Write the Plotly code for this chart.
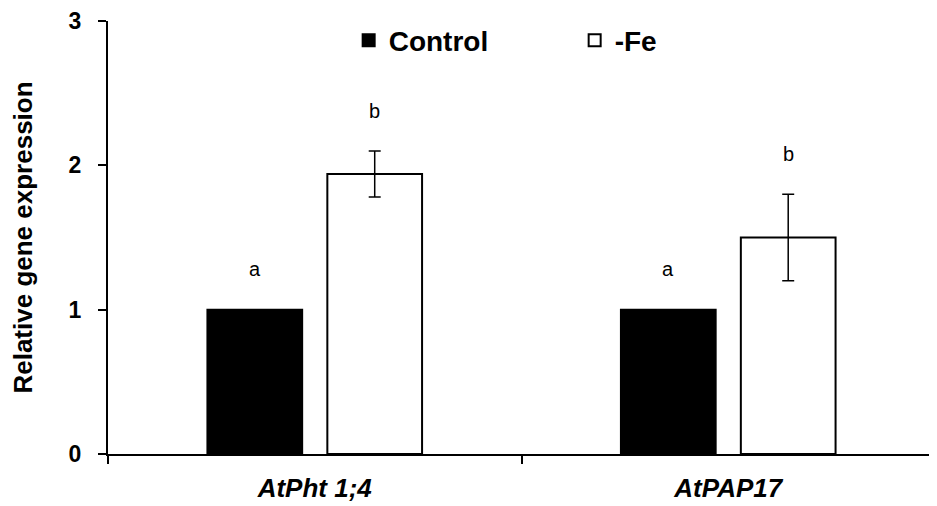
import plotly.graph_objects as go

genes = ["<i>AtPht 1;4</i>", "<i>AtPAP17</i>"]
control = [1.0, 1.0]
fe = [1.94, 1.50]
fe_err = [0.16, 0.30]
control_letters = ["a", "a"]
fe_letters = ["b", "b"]

FONT = "Liberation Sans, Arial, sans-serif"


def build_figure():
    fig = go.Figure()
    fig.add_trace(go.Bar(
        x=genes, y=control, name="Control",
        marker=dict(color="black", line=dict(color="black", width=2)),
    ))
    fig.add_trace(go.Bar(
        x=genes, y=fe, name="-Fe",
        marker=dict(color="white", line=dict(color="black", width=2)),
        error_y=dict(type="data", array=fe_err, color="black", thickness=1.5, width=6),
    ))

    # significance letters above each bar
    pad = 0.28
    for g, c, lab in zip(genes, control, control_letters):
        fig.add_annotation(x=g, y=c + pad, text=lab, showarrow=False, xshift=-60,
                           yanchor="middle", font=dict(size=20, color="black"))
    for g, v, e, lab in zip(genes, fe, fe_err, fe_letters):
        fig.add_annotation(x=g, y=v + e + pad, text=lab, showarrow=False, xshift=60,
                           yanchor="middle", font=dict(size=20, color="black"))

    # page body has an 8px margin, so the figure is sized to fit inside it
    fig.update_layout(
        width=929, height=498,
        margin=dict(l=100, r=2, t=13, b=52),
        paper_bgcolor="white", plot_bgcolor="white",
        font=dict(family=FONT, color="black"),
        barmode="group", bargap=0.42, bargroupgap=0.21,
        showlegend=True,
        legend=dict(
            orientation="h", x=0.291, y=0.955, xanchor="left", yanchor="middle",
            font=dict(size=28, family=FONT, weight="bold"),
            entrywidth=181, bgcolor="rgba(0,0,0,0)",
        ),
    )
    fig.update_xaxes(
        automargin=False,
        showline=True, linecolor="black", linewidth=2,
        ticks="outside", tickson="boundaries", ticklen=8, tickwidth=2, tickcolor="black",
        tickfont=dict(size=26, family=FONT, weight="bold"),
        ticklabelstandoff=10,
        showgrid=False,
    )
    fig.update_yaxes(
        automargin=False,
        range=[0, 3.0001], tickmode="array", tickvals=[0, 1, 2, 3],
        ticktext=["0", "1", "2", "3"], ticklabeloverflow="allow",
        showline=True, linecolor="black", linewidth=2,
        ticks="outside", ticklen=8, tickwidth=2, tickcolor="black",
        tickfont=dict(size=23, family=FONT, weight="bold"),
        ticklabelstandoff=12,
        showgrid=False, zeroline=False,
        title=dict(text="Relative gene expression", standoff=44,
                   font=dict(size=26, family=FONT, weight="bold")),
    )
    return fig


fig = build_figure()
fig.write_html("out.html")
